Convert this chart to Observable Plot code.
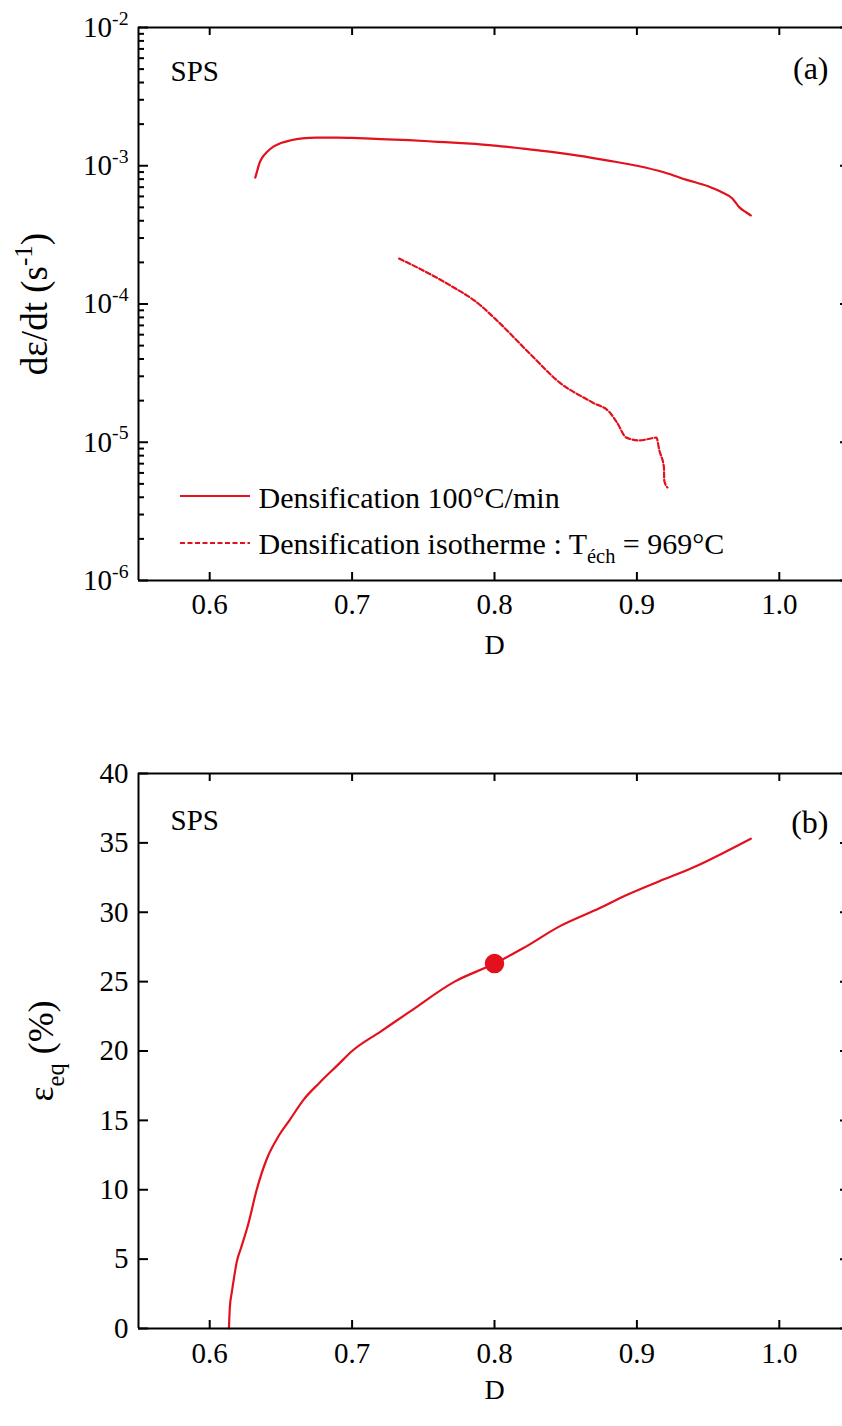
<!DOCTYPE html>
<html>
<head>
<meta charset="utf-8">
<script src="https://cdn.jsdelivr.net/npm/d3@7"></script>
<script src="https://cdn.jsdelivr.net/npm/@observablehq/plot@0.6"></script>
<style>
  html, body { margin: 0; padding: 0; background: #fff; overflow: hidden; }
  #wrap { width: 842px; height: 1426px; overflow: hidden; position: relative; }
  #wrap svg { display: block; max-width: none !important; overflow: hidden !important; }
</style>
</head>
<body>
<div id="wrap"></div>
<script>
// ---------- data ----------
// Panel (a): densification rate vs relative density D
const rampD = [0.632, 0.6335, 0.635, 0.637, 0.640, 0.645, 0.650, 0.657, 0.665, 0.675, 0.690, 0.700, 0.720, 0.740, 0.760, 0.780, 0.800, 0.820, 0.840, 0.860, 0.880, 0.900, 0.920, 0.935, 0.950, 0.960, 0.967, 0.972, 0.976, 0.980];
const rampRate = [8.2e-4, 9.3e-4, 1.05e-3, 1.15e-3, 1.25e-3, 1.38e-3, 1.46e-3, 1.53e-3, 1.58e-3, 1.60e-3, 1.60e-3, 1.59e-3, 1.56e-3, 1.53e-3, 1.49e-3, 1.45e-3, 1.40e-3, 1.33e-3, 1.26e-3, 1.18e-3, 1.09e-3, 1.00e-3, 8.9e-4, 7.9e-4, 7.1e-4, 6.4e-4, 5.8e-4, 5.0e-4, 4.65e-4, 4.37e-4];
const isoD = [0.733, 0.747, 0.768, 0.789, 0.800, 0.8246, 0.8456, 0.8688, 0.881, 0.886, 0.8926, 0.9018, 0.909, 0.9137, 0.9158, 0.919, 0.9192, 0.9214];
const isoRate = [2.13e-4, 1.81e-4, 1.38e-4, 1.0e-4, 7.9e-5, 4.4e-5, 2.71e-5, 1.94e-5, 1.64e-5, 1.39e-5, 1.08e-5, 1.03e-5, 1.06e-5, 1.08e-5, 8.7e-6, 6.56e-6, 5.29e-6, 4.71e-6];
// Panel (b): equivalent strain vs D
const strainD = [0.6135, 0.6138, 0.6142, 0.6155, 0.6170, 0.619, 0.622, 0.627, 0.633, 0.640, 0.648, 0.656, 0.666, 0.677, 0.690, 0.700, 0.720, 0.740, 0.772, 0.800, 0.820, 0.846, 0.874, 0.892, 0.915, 0.939, 0.963, 0.980];
const strainPct = [0, 0.8, 1.6, 2.6, 3.6, 4.8, 5.8, 7.5, 10.0, 12.2, 13.8, 15.0, 16.5, 17.7, 19.0, 20.0, 21.4, 22.8, 25.0, 26.3, 27.4, 29.0, 30.3, 31.2, 32.2, 33.2, 34.4, 35.3];
const markD = [0.8];
const markStrain = [26.3];

// ticks & labels
const xDomain = [0.55, 1.05];
const xTicks = [0.6, 0.7, 0.8, 0.9, 1.0];
const yLogDomain = [1e-6, 1e-2];
const yLogMajor = [1e-6, 1e-5, 1e-4, 1e-3, 1e-2];
const yLogMinor = [-6, -5, -4, -3].flatMap(k => [2,3,4,5,6,7,8,9].map(m => m * Math.pow(10, k)));
const yLinDomain = [0, 40];
const yLinTicks = [0, 5, 10, 15, 20, 25, 30, 35, 40];
const legendLabels = ["Densification 100°C/min", "Densification isotherme : T_{éch} = 969°C"];
const panelLabels = ["(a)", "(b)"];
const xTitle = "D";
const yTitleA = "dε/dt (s^{-1})";
const yTitleB = "ε_{eq} (%)";

// ---------- style ----------
const RED = "#e3101e";
const FONT = "'Liberation Serif', 'Times New Roman', serif";
const TICKFS = 29;
const W = 842, mL = 138, mR = -8;   // right edge of the frame lies just beyond the visible page
const plotW = W - mL - mR;

function frameTicks(xs, ysMajor, ysMinor, plotH) {
  const marks = [
    Plot.tickX(xs, {x: d => d, insetTop: plotH - 8, stroke: "black", strokeWidth: 2}),
    Plot.tickX(xs, {x: d => d, insetBottom: plotH - 8, stroke: "black", strokeWidth: 2}),
    Plot.tickY(ysMajor, {y: d => d, insetRight: plotW - 10, stroke: "black", strokeWidth: 2}),
    Plot.tickY(ysMajor, {y: d => d, insetLeft: plotW - 10, stroke: "black", strokeWidth: 2})
  ];
  if (ysMinor) {
    marks.push(Plot.tickY(ysMinor, {y: d => d, insetRight: plotW - 6, stroke: "black", strokeWidth: 2}));
    marks.push(Plot.tickY(ysMinor, {y: d => d, insetLeft: plotW - 6, stroke: "black", strokeWidth: 2}));
  }
  return marks;
}
function axisLines(xd, yd) {
  return [
    Plot.ruleX([xd[0]], {stroke: "black", strokeWidth: 2}),
    Plot.ruleY([yd[0]], {stroke: "black", strokeWidth: 2}),
    Plot.ruleY([yd[1]], {stroke: "black", strokeWidth: 2})
  ];
}

// ---------- panel (a) ----------
const Ha = 700, mTa = 27, mBa = 120;
const plotHa = Ha - mTa - mBa;
const chartA = Plot.plot({
  width: W, height: Ha, marginTop: mTa, marginBottom: mBa, marginLeft: mL, marginRight: mR,
  style: {fontFamily: FONT, fontSize: TICKFS + "px", color: "black", background: "white"},
  x: {domain: xDomain},
  y: {type: "log", domain: yLogDomain},
  marks: [
    Plot.line(rampD.map((d, i) => ({D: d, v: rampRate[i]})), {x: "D", y: "v", stroke: RED, strokeWidth: 2.2, curve: "monotone-x"}),
    Plot.line(isoD.map((d, i) => ({D: d, v: isoRate[i]})), {x: "D", y: "v", stroke: RED, strokeWidth: 2.2, strokeDasharray: "5,2.5", curve: "monotone-x"}),
    ...frameTicks(xTicks, yLogMajor, yLogMinor, plotHa),
    ...axisLines(xDomain, yLogDomain),
    Plot.axisX(xTicks, {tickSize: 0, tickPadding: 13, tickFormat: d3.format(".1f"), label: null, fontSize: TICKFS}),
    Plot.axisY(yLogMajor, {tickSize: 0, tickPadding: 10, tickFormat: d => `10^{${Math.round(Math.log10(d))}}`, label: null, fontSize: TICKFS}),
    Plot.text([xTitle], {frameAnchor: "bottom", dy: 65, lineAnchor: "middle", textAnchor: "middle", fontSize: 28}),
    Plot.text([yTitleA], {frameAnchor: "left", dx: -103, rotate: -90, lineAnchor: "middle", textAnchor: "middle", fontSize: 37}),
    Plot.text(["SPS"], {frameAnchor: "top-left", dx: 32, dy: 53, lineAnchor: "bottom", textAnchor: "start", fontSize: 29}),
    Plot.text([panelLabels[0]], {frameAnchor: "top-right", dx: -22, dy: 51, lineAnchor: "bottom", textAnchor: "end", fontSize: 32}),
    Plot.text([legendLabels[0]], {frameAnchor: "bottom-left", dx: 120, dy: -73, lineAnchor: "bottom", textAnchor: "start", fontSize: 30}),
    Plot.text([legendLabels[1]], {frameAnchor: "bottom-left", dx: 120, dy: -27, lineAnchor: "bottom", textAnchor: "start", fontSize: 30})
  ]
});

// ---------- panel (b) ----------
const Hb = 726, mTb = 73, mBb = 98;
const plotHb = Hb - mTb - mBb;
const chartB = Plot.plot({
  width: W, height: Hb, marginTop: mTb, marginBottom: mBb, marginLeft: mL, marginRight: mR,
  style: {fontFamily: FONT, fontSize: TICKFS + "px", color: "black", background: "white"},
  x: {domain: xDomain},
  y: {domain: yLinDomain},
  marks: [
    Plot.line(strainD.map((d, i) => ({D: d, v: strainPct[i]})), {x: "D", y: "v", stroke: RED, strokeWidth: 2.2, curve: "monotone-x"}),
    Plot.dot(markD.map((d, i) => ({D: d, v: markStrain[i]})), {x: "D", y: "v", r: 9, fill: RED, stroke: RED}),
    ...frameTicks(xTicks, yLinTicks, null, plotHb),
    ...axisLines(xDomain, yLinDomain),
    Plot.axisX(xTicks, {tickSize: 0, tickPadding: 14, tickFormat: d3.format(".1f"), label: null, fontSize: TICKFS}),
    Plot.axisY(yLinTicks, {tickSize: 0, tickPadding: 10, tickFormat: d => String(d), label: null, fontSize: TICKFS}),
    Plot.text([xTitle], {frameAnchor: "bottom", dy: 62, lineAnchor: "middle", textAnchor: "middle", fontSize: 28}),
    Plot.text([yTitleB], {frameAnchor: "left", dx: -97, rotate: -90, lineAnchor: "middle", textAnchor: "middle", fontSize: 36}),
    Plot.text(["SPS"], {frameAnchor: "top-left", dx: 32, dy: 56, lineAnchor: "bottom", textAnchor: "start", fontSize: 29}),
    Plot.text([panelLabels[1]], {frameAnchor: "top-right", dx: -22, dy: 59, lineAnchor: "bottom", textAnchor: "end", fontSize: 32})
  ]
});

const wrap = document.getElementById("wrap");
wrap.appendChild(chartA);
wrap.appendChild(chartB);

// legend line samples in panel (a)
const svgA = d3.select(chartA);
const legY0 = Ha - mBa - 84, legY1 = Ha - mBa - 37;
svgA.append("line").attr("x1", mL + 42).attr("x2", mL + 112).attr("y1", legY0).attr("y2", legY0)
  .attr("stroke", RED).attr("stroke-width", 2.2);
svgA.append("line").attr("x1", mL + 42).attr("x2", mL + 112).attr("y1", legY1).attr("y2", legY1)
  .attr("stroke", RED).attr("stroke-width", 2.2).attr("stroke-dasharray", "5,2.5");

// rich text: ^{...} superscript, _{...} subscript
function richify(svg) {
  d3.select(svg).selectAll("text").each(function () {
    const el = this;
    const s = el.textContent;
    if (!/[\^_]\{/.test(s)) return;
    const fs = parseFloat(getComputedStyle(el).fontSize) || TICKFS;
    while (el.firstChild) el.removeChild(el.firstChild);
    const re = /([\^_])\{([^}]*)\}/g;
    const parts = [];
    let last = 0, m;
    while ((m = re.exec(s))) {
      if (m.index > last) parts.push({t: s.slice(last, m.index)});
      parts.push({t: m[2], k: m[1]});
      last = re.lastIndex;
    }
    if (last < s.length) parts.push({t: s.slice(last)});
    let cur = 0;
    for (const p of parts) {
      const ts = document.createElementNS("http://www.w3.org/2000/svg", "tspan");
      let target = 0;
      if (p.k === "^") { target = -0.42 * fs; ts.setAttribute("font-size", 0.68 * fs); }
      else if (p.k === "_") { target = 0.3 * fs; ts.setAttribute("font-size", 0.68 * fs); }
      if (target - cur !== 0) ts.setAttribute("dy", target - cur);
      cur = target;
      ts.textContent = p.t;
      el.appendChild(ts);
    }
  });
}
richify(chartA);
richify(chartB);
</script>
</body>
</html>
